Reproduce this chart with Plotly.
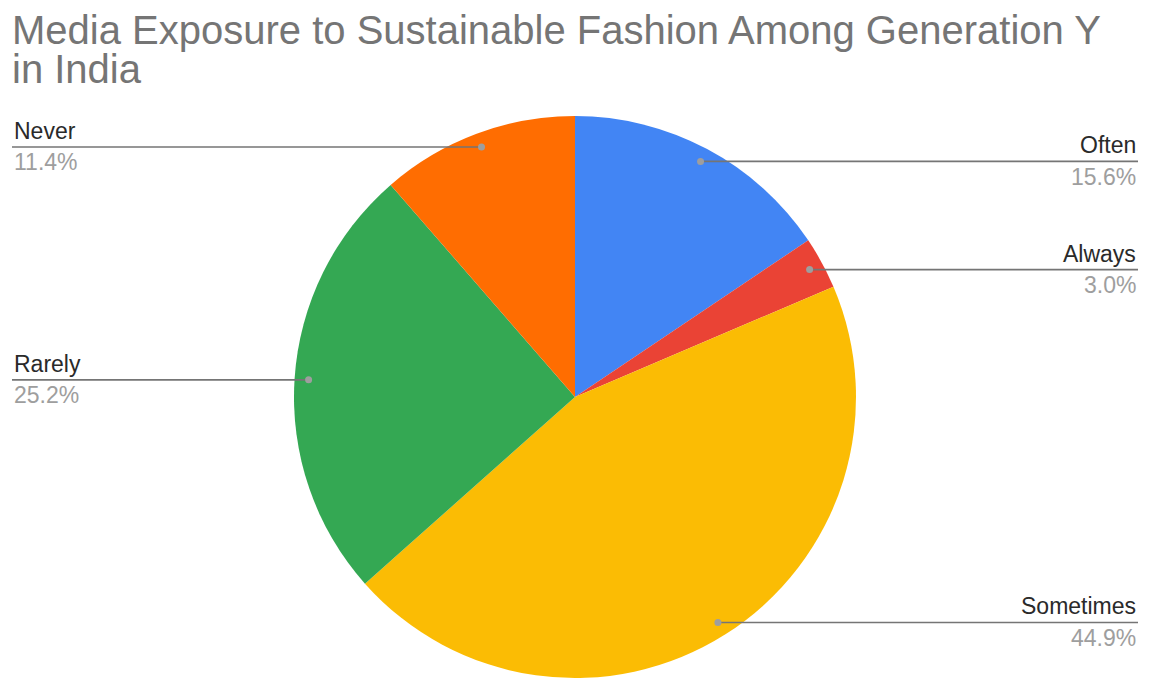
import math
import plotly.graph_objects as go

# Survey shares (percent), listed clockwise from 12 o'clock
categories = ["Often", "Always", "Sometimes", "Rarely", "Never"]
shares = [15.6, 3.0, 44.9, 25.2, 11.4]
slice_colors = ["#4285F4", "#EA4335", "#FBBC04", "#34A853", "#FF6D01"]
label_side = ["right", "right", "right", "left", "left"]

title_lines = ["Media Exposure to Sustainable Fashion Among Generation Y", "in India"]

W, H = 1154, 679
CX, CY, R = 575, 397, 281          # pie centre / radius in pixels
DOT_R = 0.95 * R                   # where leader lines meet the slice
LEFT_X, RIGHT_X = 12, 1138         # outer ends of leader lines
FONT = "Liberation Sans, Arial, sans-serif"

fig = go.Figure(
    go.Pie(
        labels=categories,
        values=shares,
        marker=dict(colors=slice_colors, line=dict(width=0)),
        sort=False,
        direction="clockwise",
        rotation=0,
        textinfo="none",
        hoverinfo="label+percent",
        showlegend=False,
        domain=dict(
            x=[(CX - R) / W, (CX + R) / W],
            y=[(H - CY - R) / H, (H - CY + R) / H],
        ),
    )
)

def px(x):
    return x / W

def py(y):
    return 1 - y / H

shapes, annotations = [], []
total = sum(shares)
acc = 0.0
for name, val, side in zip(categories, shares, label_side):
    mid = (acc + val / 2) / total * 2 * math.pi
    acc += val
    dx = CX + DOT_R * math.sin(mid)
    dy = CY - DOT_R * math.cos(mid)
    end_x = RIGHT_X if side == "right" else LEFT_X
    shapes.append(dict(type="line", xref="paper", yref="paper",
                       x0=px(dx), x1=px(end_x), y0=py(dy), y1=py(dy),
                       line=dict(color="#757575", width=1.6)))
    shapes.append(dict(type="circle", xref="paper", yref="paper",
                       x0=px(dx - 3.5), x1=px(dx + 3.5),
                       y0=py(dy + 3.5), y1=py(dy - 3.5),
                       fillcolor="#9E9E9E", line=dict(width=0)))
    anchor = "right" if side == "right" else "left"
    annotations.append(dict(xref="paper", yref="paper", x=px(end_x), y=py(dy - 1),
                            xanchor=anchor, yanchor="bottom", showarrow=False,
                            text=name, align=anchor,
                            font=dict(family=FONT, size=23, color="#2A2A2A")))
    annotations.append(dict(xref="paper", yref="paper", x=px(end_x), y=py(dy + 0.5),
                            xanchor=anchor, yanchor="top", showarrow=False,
                            text=f"{val:.1f}%", align=anchor,
                            font=dict(family=FONT, size=23, color="#9E9E9E")))

# Two-line chart title, set as separate lines for tight line spacing
for i, line in enumerate(title_lines):
    annotations.append(dict(xref="paper", yref="paper", x=px(10), y=py(6 + 39 * i),
                            xanchor="left", yanchor="top", showarrow=False,
                            text=line, align="left",
                            font=dict(family=FONT, size=40, color="#757575")))

fig.update_layout(
    width=W, height=H,
    margin=dict(l=0, r=0, t=0, b=0),
    paper_bgcolor="white",
    plot_bgcolor="white",
    shapes=shapes,
    annotations=annotations,
)

fig.write_html("out.html")
